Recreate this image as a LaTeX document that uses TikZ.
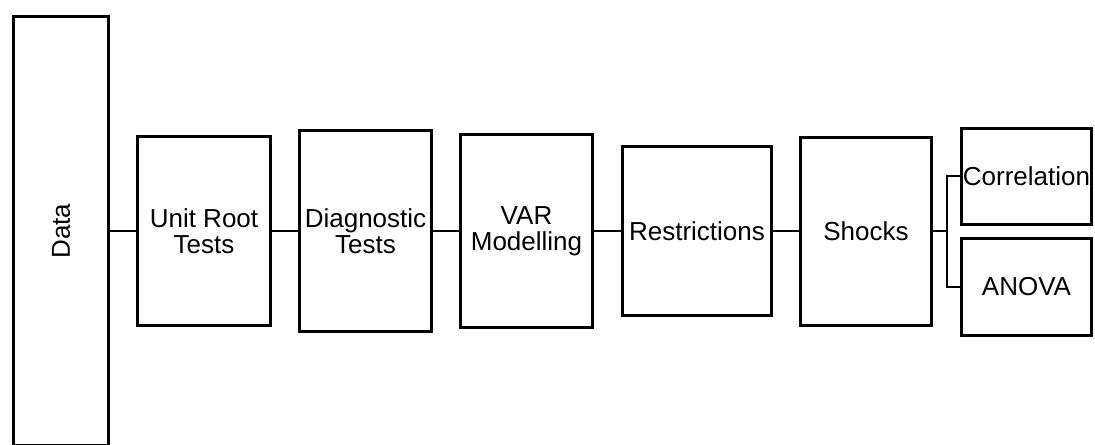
\documentclass[tikz,border=0pt]{standalone}
\usepackage{fontspec}
\setmainfont{Liberation Sans}
\tikzset{
  stage/.style={
    draw, rectangle, line width=1.5pt, align=center, inner sep=0pt,
    font=\fontsize{13}{13}\selectfont
  },
  link/.style={
    line width=1pt
  }
}

\begin{document}
\begin{tikzpicture}[x=0.5pt, y=-0.5pt]
   \useasboundingbox (0,0) rectangle (1095,444);

   \node[stage, minimum width=47.5pt, minimum height=214.5pt] (data) at (61,231) {\rotatebox{90}{Data}};
   \node[stage, minimum width=66.5pt, minimum height=94.5pt] (unit) at (204,231) {Unit Root\\Tests};
   \node[stage, minimum width=66pt, minimum height=100.5pt] (diag) at (365.5,231) {Diagnostic\\Tests};
   \node[stage, minimum width=66pt, minimum height=96.5pt] (var) at (526.5,231) {VAR\\Modelling};
   \node[stage, minimum width=74.5pt, minimum height=84.5pt] (restr) at (697,231) {Restrictions};
   \node[stage, minimum width=65.5pt, minimum height=94pt] (shocks) at (866,231) {Shocks};
   \node[stage, minimum width=65pt, minimum height=48pt] (corr) at (1026.5,176) {Correlation};
   \node[stage, minimum width=65pt, minimum height=48.5pt] (anova) at (1026.5,287) {ANOVA};

   \coordinate (fork) at (947,231);

   \draw[link] (data) -- (unit);
   \draw[link] (unit) -- (diag);
   \draw[link] (diag) -- (var);
   \draw[link] (var) -- (restr);
   \draw[link] (restr) -- (shocks);
   \draw[link] (shocks) -- (fork);
   \draw[link] (fork) |- (corr);
   \draw[link] (fork) |- (anova);
\end{tikzpicture}
\end{document}
